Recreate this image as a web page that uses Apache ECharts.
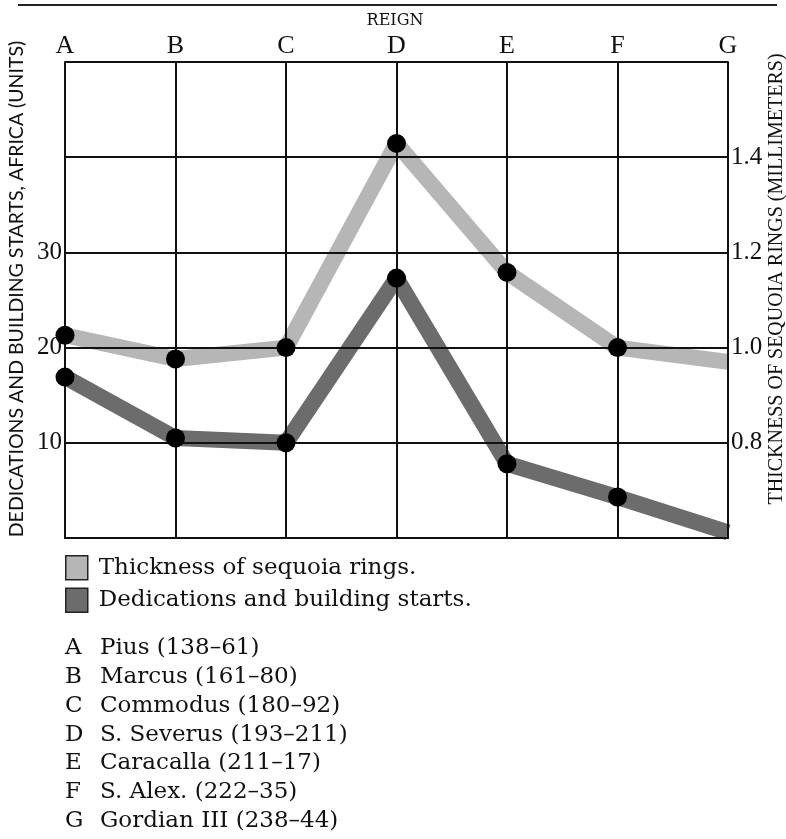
<!DOCTYPE html>
<html>
<head>
<meta charset="utf-8">
<script src="https://cdn.jsdelivr.net/npm/echarts@6/dist/echarts.min.js"></script>
<style>
html,body{margin:0;padding:0;background:#fff;}
#chart{width:786px;height:839px;}
</style>
</head>
<body>
<div id="chart"></div>
<script>
// ---- data ----
const categories = ['A', 'B', 'C', 'D', 'E', 'F', 'G'];
const dedications = [16.9, 10.5, 10.0, 27.3, 7.8, 4.3, 0.6];      // units (left axis)
const sequoia = [1.026, 0.976, 1.0, 1.429, 1.158, 1.0, 0.97];      // mm (right axis)
const hasDot = [true, true, true, true, true, true, false];
const leftTickLabels = [10, 20, 30];
const rightTickLabels = [0.8, 1.0, 1.2, 1.4];
const seriesNames = ['Thickness of sequoia rings.', 'Dedications and building starts.'];
const reignLetters = ['A', 'B', 'C', 'D', 'E', 'F', 'G'];
const reignNames = ['Pius (138–61)', 'Marcus (161–80)', 'Commodus (180–92)', 'S. Severus (193–211)',
  'Caracalla (211–17)', 'S. Alex. (222–35)', 'Gordian III (238–44)'];
const xTitle = 'REIGN';
const leftTitle = 'DEDICATIONS AND BUILDING STARTS, AFRICA (UNITS)';
const rightTitle = 'THICKNESS OF SEQUOIA RINGS (MILLIMETERS)';

// ---- styles ----
const LIGHT = '#b6b6b6';
const DARK = '#6c6c6c';
const SERIF = 'Liberation Serif';
const SERIF2 = 'DejaVu Serif';
const SANS = 'Lato';
const INK = '#111';

const chart = echarts.init(document.getElementById('chart'), null, {renderer: 'canvas'});

function dots(values) {
  return categories.map((c, i) => hasDot[i] ? [c, values[i]] : null).filter(d => d);
}

const reignGraphics = [];
reignLetters.forEach((l, i) => {
  const y = 651 + i * 28.7;
  reignGraphics.push({type: 'text', left: 65, top: y - 14,
    style: {text: l, font: '23px "' + SERIF2 + '"', fill: INK}});
  reignGraphics.push({type: 'text', left: 100, top: y - 14,
    style: {text: reignNames[i], font: '23px "' + SERIF2 + '"', fill: INK}});
});

const option = {
  animation: false,
  backgroundColor: '#fff',
  grid: {left: 65, right: 58, top: 62, bottom: 301, containLabel: false},
  xAxis: [{
    type: 'category', position: 'top', data: categories, boundaryGap: false, z: 3,
    axisLine: {show: true, lineStyle: {color: INK, width: 2}},
    axisTick: {show: false},
    axisLabel: {fontFamily: SERIF, fontSize: 26, color: INK, margin: 3},
    splitLine: {show: true, lineStyle: {color: INK, width: 2}}
  }, {
    type: 'category', position: 'bottom', data: categories, boundaryGap: false, z: 3,
    axisLine: {show: true, lineStyle: {color: INK, width: 2}},
    axisTick: {show: false}, axisLabel: {show: false}, splitLine: {show: false}
  }],
  yAxis: [{
    type: 'value', position: 'left', min: 0, max: 50, interval: 10, z: 3,
    axisLine: {show: true, lineStyle: {color: INK, width: 2}},
    axisTick: {show: false},
    axisLabel: {fontFamily: SERIF, fontSize: 25, color: INK, margin: 3,
      formatter: v => leftTickLabels.indexOf(Math.round(v)) >= 0 ? String(Math.round(v)) : ''},
    splitLine: {show: true, lineStyle: {color: INK, width: 2}}
  }, {
    type: 'value', position: 'right', min: 0.6, max: 1.6, interval: 0.2, z: 3,
    axisLine: {show: true, lineStyle: {color: INK, width: 2}},
    axisTick: {show: false},
    axisLabel: {fontFamily: SERIF, fontSize: 25, color: INK, margin: 3,
      formatter: v => rightTickLabels.some(t => Math.abs(t - v) < 1e-6) ? v.toFixed(1) : ''},
    splitLine: {show: false}
  }],
  legend: {
    orient: 'vertical', left: 65, top: 555, padding: 0,
    itemWidth: 22, itemHeight: 24, itemGap: 7, icon: 'rect',
    data: [
      {name: seriesNames[0], itemStyle: {color: LIGHT, borderColor: '#222', borderWidth: 1.5}},
      {name: seriesNames[1], itemStyle: {color: DARK, borderColor: '#222', borderWidth: 1.5}}
    ],
    textStyle: {fontFamily: SERIF2, fontSize: 23, color: INK, lineHeight: 24, padding: [0, 0, 0, 6]},
    selectedMode: false
  },
  series: [{
    name: seriesNames[0], type: 'line', yAxisIndex: 1, data: sequoia, z: 2,
    showSymbol: false, symbol: 'none',
    lineStyle: {color: LIGHT, width: 16}, itemStyle: {color: LIGHT}
  }, {
    name: seriesNames[1], type: 'line', yAxisIndex: 0, data: dedications, z: 2,
    showSymbol: false, symbol: 'none',
    lineStyle: {color: DARK, width: 16}, itemStyle: {color: DARK}
  }, {
    name: 'dots1', type: 'scatter', yAxisIndex: 1, data: dots(sequoia), z: 5,
    symbol: 'circle', symbolSize: 19, itemStyle: {color: '#000', opacity: 1}
  }, {
    name: 'dots2', type: 'scatter', yAxisIndex: 0, data: dots(dedications), z: 5,
    symbol: 'circle', symbolSize: 19, itemStyle: {color: '#000', opacity: 1}
  }],
  graphic: [
    {type: 'line', shape: {x1: 18, y1: 5, x2: 777, y2: 5}, style: {stroke: '#222', lineWidth: 2}},
    {type: 'text', x: 395, y: 21, style: {text: xTitle, font: '16px "' + SERIF2 + '"', fill: INK,
      textAlign: 'center', textVerticalAlign: 'middle'}},
    {type: 'text', x: 17, y: 289, rotation: Math.PI / 2,
      style: {text: leftTitle, font: '19.5px "' + SANS + '"', fill: INK, textAlign: 'center', textVerticalAlign: 'middle'}},
    {type: 'text', x: 777, y: 279, rotation: Math.PI / 2,
      style: {text: rightTitle, font: '20px "' + SERIF + '"', fill: INK, textAlign: 'center', textVerticalAlign: 'middle'}}
  ].concat(reignGraphics)
};
chart.setOption(option);
</script>
</body>
</html>
